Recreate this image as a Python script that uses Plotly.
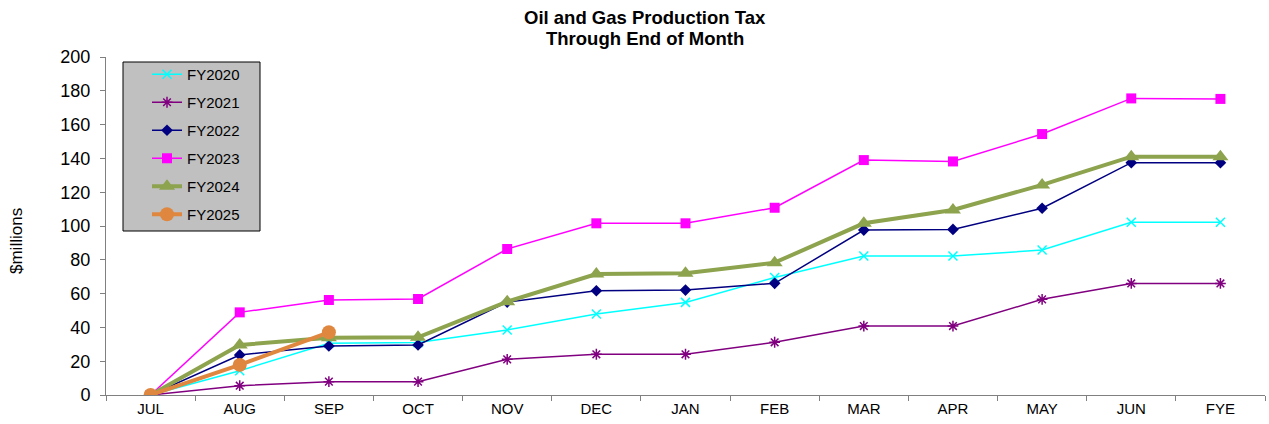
import plotly.graph_objects as go

months = ["JUL", "AUG", "SEP", "OCT", "NOV", "DEC", "JAN", "FEB", "MAR", "APR", "MAY", "JUN", "FYE"]

fy2020 = [0, 14.4, 30.6, 31.0, 38.5, 47.9, 54.8, 69.5, 82.2, 82.2, 85.8, 102.2, 102.2]
fy2021 = [0, 5.5, 7.9, 7.9, 21.1, 24.1, 24.1, 31.2, 40.8, 40.8, 56.6, 66.0, 66.0]
fy2022 = [0, 23.7, 29.0, 29.6, 55.0, 61.7, 62.1, 66.1, 97.6, 98.0, 110.5, 137.5, 137.5]
fy2023 = [0, 48.9, 56.2, 56.8, 86.4, 101.6, 101.6, 110.8, 139.0, 138.2, 154.4, 175.5, 175.2]
fy2024 = [0, 29.6, 33.9, 34.1, 55.2, 71.6, 72.0, 78.3, 101.6, 109.5, 124.3, 141.0, 141.0]
fy2025 = [0, 17.8, 37.1]

title_lines = ["Oil and Gas Production Tax", "Through End of Month"]

series = [
    ("FY2020", fy2020, "#00FFFF", 1.5, "x-thin-open", 9, 1.5),
    ("FY2021", fy2021, "#800080", 1.5, "asterisk-open", 9, 1.5),
    ("FY2022", fy2022, "#000080", 1.5, "diamond", 9, 0),
    ("FY2023", fy2023, "#FF00FF", 1.5, "square", 10, 0),
    ("FY2024", fy2024, "#8DA34E", 4, "triangle-up", 14, 0),
    ("FY2025", fy2025, "#E0873F", 4, "circle", 14, 0),
]

fig = go.Figure()
for name, vals, color, width, symbol, size, mlw in series:
    fig.add_trace(go.Scatter(
        x=months[:len(vals)], y=vals, name=name, mode="lines+markers",
        legendgroup=name,
        line=dict(color=color, width=width),
        marker=dict(symbol=symbol, size=size, color=color,
                    line=dict(color=color, width=mlw)),
    ))

# plot area in pixels: x 106..1265, y 57..395
L, R, T, B = 106, 1265, 57, 395
W, H = R - L, B - T

def px(x):
    return (x - L) / W

def py(y):
    return (B - y) / H

# grey legend panel
fig.add_shape(type="rect", xref="paper", yref="paper",
              x0=px(123), x1=px(260), y0=py(231), y1=py(62),
              fillcolor="#C0C0C0", line=dict(color="black", width=1),
              layer="above")

# two-line bold title
for line_text, yc in zip(title_lines, [17, 38]):
    fig.add_annotation(
        text="<b>" + line_text + "</b>",
        xref="paper", yref="paper", x=px(645), y=py(yc),
        xanchor="center", yanchor="middle", showarrow=False,
        font=dict(size=18.5, color="black"),
    )

fig.add_annotation(
    text="$millions", textangle=-90,
    xref="paper", yref="paper", x=px(16), y=py(241),
    xanchor="center", yanchor="middle", showarrow=False,
    font=dict(size=17, color="black"),
)

fig.update_layout(
    width=1269, height=424,
    margin=dict(l=L, r=1269 - R, t=T, b=424 - B),
    paper_bgcolor="white", plot_bgcolor="white",
    font=dict(family="Liberation Sans, Arial, sans-serif", size=15, color="black"),
    showlegend=True,
    legend=dict(
        x=px(147), y=py(58), xanchor="left", yanchor="top",
        bgcolor="rgba(0,0,0,0)", borderwidth=0,
        font=dict(size=15), tracegroupgap=5.5,
    ),
    xaxis=dict(
        type="category", categoryorder="array", categoryarray=months,
        range=[-0.5, 12.5],
        showline=True, linecolor="#808080", linewidth=1,
        ticks="outside", tickson="boundaries", ticklen=5, tickcolor="#808080",
        showgrid=False, zeroline=False,
        tickfont=dict(size=15),
    ),
    yaxis=dict(
        range=[0, 200], dtick=20,
        showline=True, linecolor="#808080", linewidth=1,
        ticks="outside", ticklen=5, tickcolor="#808080",
        showgrid=False, zeroline=False,
        tickfont=dict(size=18), ticklabelstandoff=6,
    ),
)

fig.write_html("out.html")
